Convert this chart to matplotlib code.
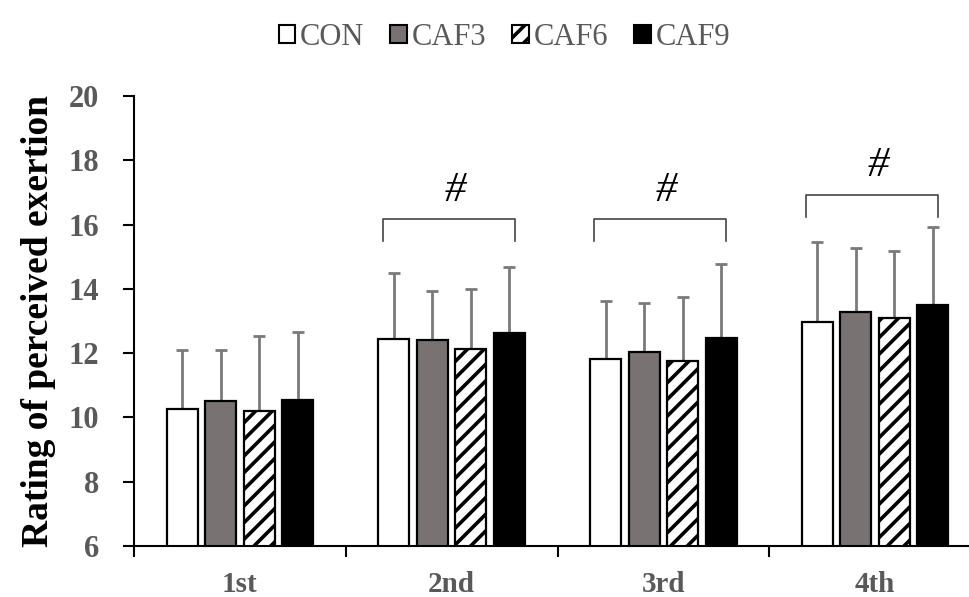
import matplotlib
matplotlib.use("Agg")
import matplotlib.pyplot as plt
import numpy as np
from matplotlib.patches import Patch

categories = ["1st", "2nd", "3rd", "4th"]
groups = ["CON", "CAF3", "CAF6", "CAF9"]
means_con = [10.26, 12.44, 11.81, 12.96]
means_caf3 = [10.50, 12.40, 12.05, 13.28]
means_caf6 = [10.19, 12.12, 11.77, 13.08]
means_caf9 = [10.54, 12.62, 12.48, 13.50]
sd_con = [1.84, 2.06, 1.81, 2.49]
sd_caf3 = [1.60, 1.54, 1.50, 1.98]
sd_caf6 = [2.34, 1.88, 1.99, 2.11]
sd_caf9 = [2.13, 2.05, 2.29, 2.42]
sig_categories = ["2nd", "3rd", "4th"]
sig_bracket_heights = [16.16, 16.16, 16.92]
sig_label = "#"

plt.rcParams["font.family"] = ["Liberation Serif", "DejaVu Serif"]
plt.rcParams["hatch.linewidth"] = 2.6
plt.rcParams["hatch.color"] = "black"

means = [means_con, means_caf3, means_caf6, means_caf9]
sds = [sd_con, sd_caf3, sd_caf6, sd_caf9]
faces = ["white", "#787372", "white", "black"]
hatches = [None, None, "//", None]

fig = plt.figure(figsize=(9.70, 5.97), dpi=100)
ax = fig.add_axes([134/970, 51/597, 847/970, 450/597])

x = np.arange(len(categories))
step = 0.182
width = 0.146
gray = "#595959"
for i, (m, s) in enumerate(zip(means, sds)):
    pos = x + (i - 1.5) * step
    ax.bar(pos, m, width=width, bottom=0, color=faces[i], edgecolor="black",
           linewidth=1.6, hatch=hatches[i], zorder=2, label=groups[i])
    ax.errorbar(pos, m, yerr=[np.zeros(len(s)), s], fmt="none", ecolor="#7a7a7a",
                elinewidth=2.0, capsize=4.5, capthick=2.0, zorder=1)

for cat, h in zip(sig_categories, sig_bracket_heights):
    c = categories.index(cat)
    xl, xr = c - 0.326, c + 0.298
    ax.plot([xl, xl, xr, xr], [h - 0.68, h, h, h - 0.68], color="#444444", lw=1.2,
            zorder=3, clip_on=False)
    ax.text((xl + xr) / 2 + 0.03, h + 0.3, sig_label, ha="center", va="bottom",
            fontsize=31, color="black", style="italic")

ax.set_ylim(6, 20)
ax.set_yticks(np.arange(6, 21, 2))
ax.set_xlim(-0.5, 3.5)
ax.set_xticks(np.arange(-0.5, 4.0, 1.0))
ax.set_xticklabels([])
ax.set_xticks(x, minor=True)
ax.set_xticklabels(categories, minor=True)
ax.tick_params(axis="x", which="major", direction="out", length=8, width=1.5)
ax.tick_params(axis="x", which="minor", length=0, pad=18, labelsize=21,
               labelcolor=gray)
ax.tick_params(axis="y", direction="out", length=8, width=1.5, pad=17,
               labelsize=22, labelcolor=gray)
for lab in ax.get_xticklabels(minor=True) + ax.get_yticklabels():
    lab.set_fontweight("bold")
for sp in ["top", "right"]:
    ax.spines[sp].set_visible(False)
for sp in ["left", "bottom"]:
    ax.spines[sp].set_linewidth(1.5)
ax.set_ylabel("Rating of perceived exertion", fontsize=27, fontweight="bold",
              labelpad=9)

handles = [Patch(facecolor=faces[i], edgecolor="black", linewidth=1.5,
                 hatch=hatches[i]) for i in range(4)]
leg = fig.legend(handles, groups, loc="upper center", bbox_to_anchor=(0.52, 1.008),
                 ncol=4, frameon=False, fontsize=22, handlelength=0.55,
                 handleheight=0.55, handletextpad=0.15, columnspacing=0.85)
for t in leg.get_texts():
    t.set_color(gray)

fig.savefig("out.png", dpi=100)
